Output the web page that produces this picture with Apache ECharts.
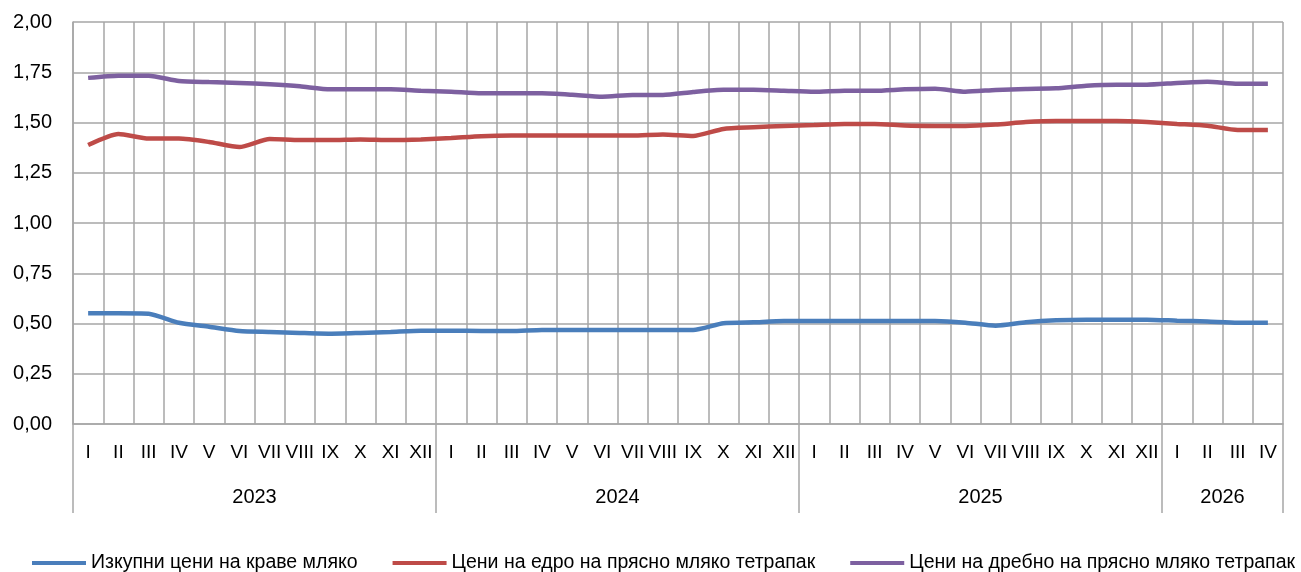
<!DOCTYPE html>
<html>
<head>
<meta charset="utf-8">
<script src="https://cdn.jsdelivr.net/npm/echarts@6/dist/echarts.min.js"></script>
<style>html,body{margin:0;padding:0;background:#fff;}#c{width:1301px;height:572px;}</style>
</head>
<body>
<div id="c"></div>
<script>
const months = ['I','II','III','IV','V','VI','VII','VIII','IX','X','XI','XII'];
const years = ['2023','2024','2025','2026'];
const monthsPerYear = [12,12,12,4];
const categories = [];
years.forEach((y,i)=>{ for(let m=0;m<monthsPerYear[i];m++) categories.push(months[m]); });

const seriesNames = ['Изкупни цени на краве мляко','Цени на едро на прясно мляко тетрапак','Цени на дребно на прясно мляко тетрапак'];
const purchasePrices = [0.551,0.551,0.549,0.504,0.484,0.463,0.458,0.453,0.449,0.453,0.458,0.464,
  0.464,0.463,0.463,0.468,0.468,0.468,0.468,0.468,0.468,0.501,0.506,0.512,
  0.512,0.512,0.512,0.512,0.512,0.504,0.489,0.506,0.516,0.519,0.519,0.519,
  0.514,0.510,0.504,0.504];
const wholesalePrices = [1.388,1.443,1.420,1.420,1.403,1.378,1.418,1.413,1.413,1.416,1.413,1.416,
  1.423,1.432,1.435,1.435,1.435,1.435,1.435,1.440,1.433,1.468,1.476,1.483,
  1.488,1.493,1.493,1.485,1.483,1.483,1.490,1.502,1.507,1.507,1.507,1.502,
  1.493,1.484,1.463,1.463];
const retailPrices = [1.722,1.733,1.733,1.706,1.701,1.697,1.690,1.680,1.665,1.665,1.665,1.658,
  1.653,1.645,1.645,1.645,1.638,1.628,1.637,1.637,1.652,1.663,1.663,1.658,
  1.653,1.658,1.658,1.665,1.668,1.653,1.662,1.667,1.670,1.683,1.688,1.688,
  1.697,1.703,1.693,1.693];

// year group boundaries and centers in category units
const bounds = [0]; monthsPerYear.forEach(n=>bounds.push(bounds[bounds.length-1]+n));
const centers = monthsPerYear.map((n,i)=>bounds[i]+n/2);

const FONT = "'Liberation Sans',Arial,sans-serif";
const GRID = '#a6a6a6';
const colors = ['#4a7ebb','#be4b48','#7d60a0'];

const chart = echarts.init(document.getElementById('c'), null, {renderer:'canvas'});
chart.setOption({
  animation:false,
  color: colors,
  textStyle:{fontFamily:FONT},
  grid:{left:73,right:18,top:22,bottom:148,containLabel:false},
  legend:{
    top:548, left:27,
    itemWidth:54, itemHeight:4, itemGap:35,
    icon:'rect',
    textStyle:{fontFamily:FONT,fontSize:19.5,color:'#000'},
    data: seriesNames
  },
  xAxis:[{
    type:'category', data:categories, boundaryGap:true,
    axisLine:{show:true,lineStyle:{color:GRID,width:1.5}},
    axisTick:{show:false},
    axisLabel:{interval:0,margin:19,fontSize:19,color:'#000',fontFamily:FONT},
    splitLine:{show:true,lineStyle:{color:GRID,width:1.5}}
  },{
    type:'value', min:0, max:categories.length, position:'bottom',
    axisLine:{show:false},
    axisTick:{show:true,length:89,customValues:bounds,lineStyle:{color:GRID,width:1.5}},
    axisLabel:{show:true,margin:63,fontSize:20,color:'#000',fontFamily:FONT,
      customValues:centers,
      formatter:function(v){const i=centers.indexOf(v);return i>=0?years[i]:'';}},
    splitLine:{show:false}
  }],
  yAxis:{
    type:'value', min:0, max:2, interval:0.25,
    axisLine:{show:true,lineStyle:{color:GRID,width:1.5}},
    axisTick:{show:false},
    axisLabel:{margin:21,fontSize:20,color:'#000',fontFamily:FONT,
      formatter:v=>v.toFixed(2).replace('.',',')},
    splitLine:{show:true,lineStyle:{color:GRID,width:1.5}}
  },
  series:[
    {name:seriesNames[0],type:'line',data:purchasePrices,showSymbol:false,smooth:0.2,lineStyle:{width:4.5}},
    {name:seriesNames[1],type:'line',data:wholesalePrices,showSymbol:false,smooth:0.2,lineStyle:{width:4.5}},
    {name:seriesNames[2],type:'line',data:retailPrices,showSymbol:false,smooth:0.2,lineStyle:{width:4.5}}
  ]
});
</script>
</body>
</html>
